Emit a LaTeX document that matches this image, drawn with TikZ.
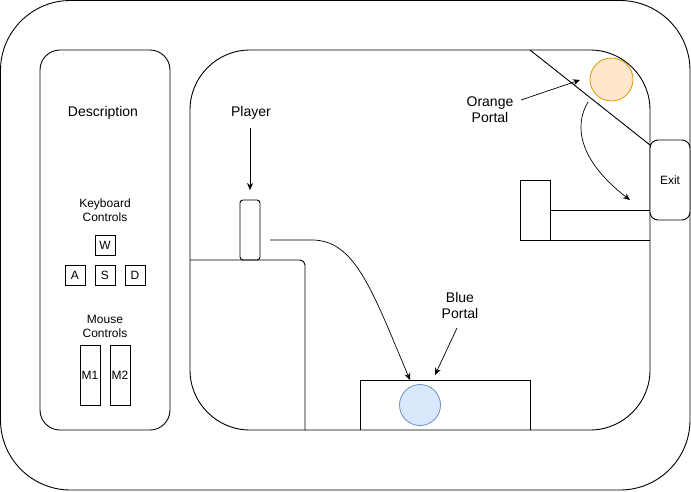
\documentclass[tikz,border=0pt]{standalone}
\usepackage{fontspec}
\setmainfont{Liberation Sans}
\usetikzlibrary{arrows.meta}
\definecolor{orfill}{HTML}{FFE6CC}
\definecolor{ordraw}{HTML}{D79B00}
\definecolor{blfill}{HTML}{DAE8FC}
\definecolor{bldraw}{HTML}{6C8EBF}
\begin{document}
\begin{tikzpicture}[x=1pt,y=-1pt,line width=0.9pt,
  lbl/.style={align=center,inner sep=0pt,font=\fontsize{12}{14}\selectfont},
  biglbl/.style={align=center,inner sep=0pt,font=\fontsize{14}{16}\selectfont},
  keybox/.style={draw,minimum width=20pt,minimum height=20pt,inner sep=0pt,font=\fontsize{12}{14}\selectfont},
  mousebox/.style={draw,minimum width=20pt,minimum height=60pt,inner sep=0pt,font=\fontsize{12}{14}\selectfont},
  portal/.style={circle,inner sep=0pt,line width=0.8pt},
  arr/.style={-{Stealth[length=7pt,width=6pt]},line width=0.7pt}]
\useasboundingbox (0,0) rectangle (691,491);
% outer frame
\draw[rounded corners=70pt] (0.5,0.5) rectangle (690,490);
% description panel
\draw[rounded corners=20pt] (40,50) rectangle (170,430);
\node[biglbl] (desc) at (103,113) {Description};
\node[lbl] (kbd) at (105,210) {Keyboard\\Controls};
\node[keybox] (w) at (105,245) {W};
\node[keybox] (a) at (75,275) {A};
\node[keybox] (s) at (105,275) {S};
\node[keybox] (d) at (135,275) {D};
\node[lbl] (mouse) at (105,326) {Mouse\\Controls};
\node[mousebox] (m1) at (90,375) {M1};
\node[mousebox] (m2) at (120,375) {M2};
% room
\draw[rounded corners=60pt] (190,50) rectangle (650,430);
\draw[rounded corners=5pt] (190,260) -- (305,260) -- (305,430);
\draw (360,430) -- (360,380) -- (530,380) -- (530,430);
\draw (530,50) -- (650,145);
\draw (650,240) -- (520,240) -- (520,180) -- (550,180) -- (550,240);
\draw (550,210) -- (650,210);
% exit
\node[draw,fill=white,rounded corners=8pt,minimum width=40pt,minimum height=80pt,inner sep=0pt,font=\fontsize{12}{14}\selectfont] (exit) at (670,180) {Exit};
% portals
\node[portal,draw=ordraw,fill=orfill,minimum size=43pt] (orange) at (611.5,79.5) {};
\node[portal,draw=bldraw,fill=blfill,minimum size=41pt] (blue) at (420,405) {};
% player
\node[draw,rounded corners=3pt,minimum width=20pt,minimum height=60pt,inner sep=0pt] (player) at (250,230) {};
% labels
\node[biglbl] (playerlbl) at (251,113) {Player};
\node[biglbl] (orangelbl) at (490,110) {Orange\\Portal};
\node[biglbl] (bluelbl) at (460,305) {Blue\\Portal};
% connectors
\coordinate (p1) at (250,128);
\coordinate (p2) at (250,190);
\draw[arr] (p1) -- (p2);
\coordinate (o1) at (521,100);
\coordinate (o2) at (580,80);
\draw[arr] (o1) -- (o2);
\coordinate (b1) at (457,328);
\coordinate (b2) at (435,375);
\draw[arr] (b1) -- (b2);
\coordinate (c1) at (270,240);
\coordinate (c2) at (312,240);
\coordinate (c3) at (410,380);
\draw[arr] (c1) -- (c2) .. controls (355,240) and (372,290) .. (c3);
\coordinate (d1) at (588,102);
\coordinate (d3) at (630,200);
\draw[arr] (d1) .. controls (574,125) and (578,160) .. (d3);
\end{tikzpicture}
\end{document}
